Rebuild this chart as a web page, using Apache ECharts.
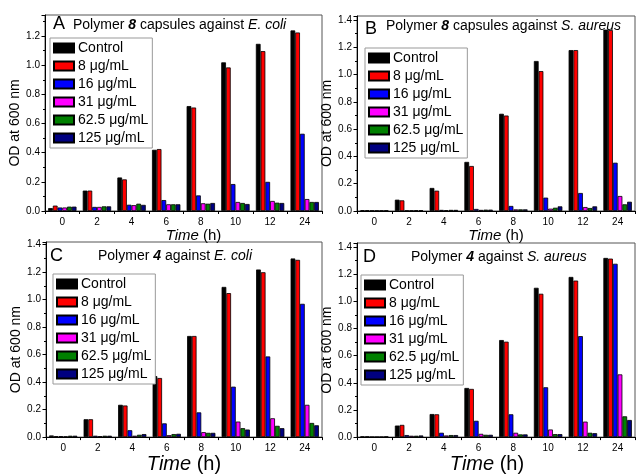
<!DOCTYPE html>
<html>
<head>
<meta charset="utf-8">
<script src="https://cdn.jsdelivr.net/npm/echarts@6/dist/echarts.min.js"></script>
<style>html,body{margin:0;padding:0;background:#fff}#c{width:636px;height:475px}</style>
</head>
<body>
<div id="c"></div>
<script>
const categories = ['0','2','4','6','8','10','12','24'];
const seriesNames = ['Control','8 μg/mL','16 μg/mL','31 μg/mL','62.5 μg/mL','125 μg/mL'];
const colors = ['#000000','#ff0000','#0000ff','#ff00ff','#008000','#000080'];
const yTickLabels = ['0.0','0.2','0.4','0.6','0.8','1.0','1.2','1.4'];

// Panel A: Polymer 8 capsules against E. coli
const A_control = [0.02,0.14,0.23,0.42,0.72,1.02,1.147,1.239];
const A_8 = [0.037,0.14,0.217,0.425,0.71,0.985,1.097,1.225];
const A_16 = [0.024,0.028,0.043,0.075,0.107,0.185,0.2,0.53];
const A_31 = [0.024,0.028,0.04,0.046,0.053,0.062,0.069,0.082];
const A_62 = [0.03,0.032,0.05,0.046,0.05,0.055,0.057,0.062];
const A_125 = [0.03,0.032,0.042,0.046,0.055,0.048,0.055,0.062];
// Panel B: Polymer 8 capsules against S. aureus
const B_control = [0.006,0.083,0.169,0.36,0.713,1.10,1.18,1.33];
const B_8 = [0.006,0.078,0.149,0.33,0.70,1.026,1.18,1.327];
const B_16 = [0.004,0.004,0.008,0.015,0.037,0.098,0.132,0.354];
const B_31 = [0.004,0.004,0.006,0.008,0.012,0.017,0.029,0.11];
const B_62 = [0.004,0.006,0.008,0.01,0.012,0.024,0.022,0.049];
const B_125 = [0.005,0.006,0.008,0.01,0.012,0.034,0.034,0.068];
// Panel C: Polymer 4 against E. coli
const C_control = [0.012,0.13,0.235,0.444,0.736,1.093,1.22,1.30];
const C_8 = [0.007,0.13,0.23,0.43,0.736,1.048,1.20,1.29];
const C_16 = [0.007,0.01,0.05,0.10,0.18,0.367,0.587,0.97];
const C_31 = [0.005,0.007,0.01,0.014,0.036,0.113,0.137,0.235];
const C_62 = [0.01,0.01,0.017,0.022,0.031,0.065,0.082,0.103];
const C_125 = [0.01,0.01,0.022,0.024,0.031,0.055,0.065,0.086];
// Panel D: Polymer 4 against S. aureus
const D_control = [0.005,0.085,0.17,0.362,0.715,1.10,1.18,1.32];
const D_8 = [0.005,0.09,0.168,0.355,0.703,1.056,1.153,1.315];
const D_16 = [0.002,0.015,0.032,0.12,0.168,0.367,0.744,1.277];
const D_31 = [0.002,0.01,0.012,0.024,0.032,0.056,0.114,0.462];
const D_62 = [0.002,0.01,0.015,0.017,0.02,0.022,0.032,0.153];
const D_125 = [0.005,0.012,0.015,0.017,0.02,0.022,0.029,0.126];

const panelData = [
  [A_control,A_8,A_16,A_31,A_62,A_125],
  [B_control,B_8,B_16,B_31,B_62,B_125],
  [C_control,C_8,C_16,C_31,C_62,C_125],
  [D_control,D_8,D_16,D_31,D_62,D_125]
];
const panelLetters = ['A','B','C','D'];
const panelTitles = [
  'Polymer {b|8} capsules against {i|E. coli}',
  'Polymer {b|8} capsules against {i|S. aureus}',
  'Polymer {b|4} against {i|E. coli}',
  'Polymer {b|4} against {i|S. aureus}'
];

const FONT = 'Liberation Sans, Arial, sans-serif';
const layout = [
  {grid:{left:45,top:15,width:277,height:196}, ymax:1.345, letter:[53,15], title:[73,18], legend:[50,38], xname:{size:15,gap:3,shift:20}},
  {grid:{left:357,top:16,width:278,height:195}, ymax:1.43, letter:[365,20], title:[386,19], legend:[365,48], xname:{size:15,gap:9,shift:0}},
  {grid:{left:46,top:242,width:276,height:197}, ymax:1.42, letter:[50,247], title:[98,249], legend:[53,274], xname:{size:20,gap:12,shift:0}},
  {grid:{left:357,top:243,width:278,height:196}, ymax:1.43, letter:[363,248], title:[411,250], legend:[361,275], xname:{size:20,gap:12,shift:-18}}
];

const grids=[], xAxes=[], yAxes=[], series=[], titles=[], legends=[];
layout.forEach((L,p)=>{
  grids.push(Object.assign({show:true,borderColor:'#555',borderWidth:1,backgroundColor:'transparent'},L.grid));
  xAxes.push({
    type:'category', gridIndex:p, data:categories,
    axisLine:{lineStyle:{color:'#000',width:1}},
    axisTick:{show:true,length:3,lineStyle:{color:'#000'}},
    axisLabel:{color:'#000',fontSize:10,fontFamily:FONT,margin:6},
    name:'{i|Time} (h)', nameLocation:'middle', nameGap:L.xname.gap,
    nameTextStyle:{color:'#000',fontSize:L.xname.size,fontFamily:FONT,
      padding: L.xname.shift>0?[0,0,0,L.xname.shift]:[0,-L.xname.shift,0,0],
      rich:{i:{fontStyle:'italic',fontSize:L.xname.size,fontFamily:FONT,color:'#000'}}}
  });
  yAxes.push({
    type:'value', gridIndex:p, min:0, max:L.ymax, interval:0.2,
    axisLine:{show:true,lineStyle:{color:'#000',width:1}},
    axisTick:{show:true,length:3.5,lineStyle:{color:'#000'}},
    minorTick:{show:true,splitNumber:2,length:2,lineStyle:{color:'#000'}},
    splitLine:{show:false},
    axisLabel:{color:'#000',fontSize:10,fontFamily:FONT,margin:5,
      formatter:v=>{const k=Math.round(v*5); return Math.abs(v*5-k)<1e-6 ? (yTickLabels[k]||'') : '';}},
    name:'OD at 600 nm', nameLocation:'middle', nameGap:22,
    nameTextStyle:{color:'#000',fontSize:14,fontFamily:FONT,padding:[0,20,0,0]}
  });
  titles.push({text:panelLetters[p], left:L.letter[0], top:L.letter[1], padding:0,
    textStyle:{fontSize:18,fontWeight:'normal',color:'#000',fontFamily:FONT}});
  titles.push({text:panelTitles[p], left:L.title[0], top:L.title[1], padding:0,
    textStyle:{fontSize:14,fontWeight:'normal',color:'#000',fontFamily:FONT,
      rich:{b:{fontWeight:'bold',fontStyle:'italic',fontSize:14,fontFamily:FONT,color:'#000'},
            i:{fontStyle:'italic',fontSize:14,fontFamily:FONT,color:'#000'}}}});
  legends.push({
    orient:'vertical', left:L.legend[0], top:L.legend[1], data:seriesNames,
    icon:'rect', itemWidth:20, itemHeight:9, itemGap:4,
    padding:[3,4,3,3], borderColor:'#999', borderWidth:1, backgroundColor:'#fff',
    textStyle:{fontSize:14,color:'#000',fontFamily:FONT,padding:[0,0,0,-1]},
    selectedMode:false
  });
  panelData[p].forEach((arr,i)=>{
    series.push({
      type:'bar', name:seriesNames[i], xAxisIndex:p, yAxisIndex:p, data:arr,
      barGap:'0%', barCategoryGap:'18%',
      itemStyle:{color:colors[i],borderColor:'#000',borderWidth:0.8},
      emphasis:{disabled:true}
    });
  });
});

const chart = echarts.init(document.getElementById('c'), null, {renderer:'canvas'});
chart.setOption({
  animation:false,
  backgroundColor:'#fff',
  textStyle:{fontFamily:FONT},
  grid:grids, xAxis:xAxes, yAxis:yAxes, title:titles, legend:legends, series:series
});
</script>
</body>
</html>
